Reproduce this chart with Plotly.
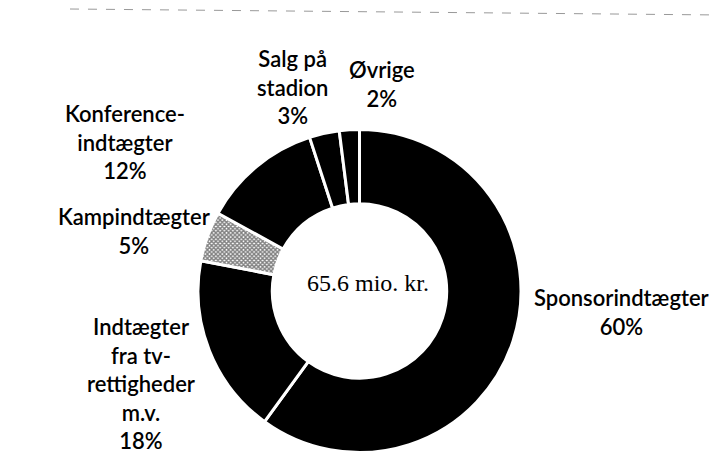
import plotly.graph_objects as go

categories = ["Sponsorindtægter", "Indtægter fra tv-rettigheder m.v.", "Kampindtægter",
              "Konferenceindtægter", "Salg på stadion", "Øvrige"]
values = [60, 18, 5, 12, 3, 2]
label_texts = [
    "Sponsorindtægter<br>60%",
    "Indtægter<br>fra tv-<br>rettigheder<br>m.v.<br>18%",
    "Kampindtægter<br>5%",
    "Konference-<br>indtægter<br>12%",
    "Salg på<br>stadion<br>3%",
    "Øvrige<br>2%",
]
# label anchor positions in page pixels (x, y-from-top)
label_pos = [(621, 312), (141, 383), (134, 231), (125, 142), (292, 87), (382, 84)]
center_text = "65.6 mio. kr."

# the page body has an 8px margin, so the figure is drawn 8px smaller and offset
OFF = 8
W, H = 721 - OFF, 453 - OFF
cx, cy, r = 359.5 - OFF, 291 - OFF, 161.5


def px(x):
    return (x - OFF) / W


def py(y):
    return 1 - (y - OFF) / H


fill_colors = ["#000000", "#000000", "#ffffff", "#000000", "#000000", "#000000"]
pattern_shapes = ["", "", "x", "", "", ""]

y0 = max(0.0, (H - cy - r) / H)
y1 = min(1.0, (H - cy + r) / H)

fig = go.Figure()
fig.add_trace(go.Pie(
    labels=categories,
    values=values,
    sort=False,
    direction="clockwise",
    rotation=0,
    hole=0.54,
    textinfo="none",
    hoverinfo="none",
    showlegend=False,
    marker=dict(
        colors=fill_colors,
        line=dict(color="#ffffff", width=3),
        pattern=dict(shape=pattern_shapes, fgcolor="#000000", bgcolor="#ffffff",
                     size=3, solidity=0.7, fillmode="overlay"),
    ),
    domain=dict(x=[(cx - r) / W, (cx + r) / W], y=[y0, y1]),
))

font_lbl = dict(family="Lato, Carlito, Open Sans, sans-serif", size=22, color="#000000", weight=600)
for txt, (lx, ly) in zip(label_texts, label_pos):
    fig.add_annotation(x=px(lx), y=py(ly), xref="paper", yref="paper",
                       text=txt, showarrow=False, font=font_lbl, align="center",
                       xanchor="center", yanchor="middle")

fig.add_annotation(x=px(368), y=py(283), xref="paper", yref="paper",
                   text=center_text, showarrow=False,
                   font=dict(family="Liberation Serif, Times New Roman, serif", size=24, color="#000000"),
                   xanchor="center", yanchor="middle")

# faint scan line at the top
fig.add_shape(type="line", xref="paper", yref="paper",
              x0=px(70), y0=py(9), x1=1.0, y1=py(15),
              line=dict(color="#999999", width=1, dash="dash"))

fig.update_layout(
    width=W, height=H,
    margin=dict(l=0, r=0, t=0, b=0),
    paper_bgcolor="#ffffff",
    plot_bgcolor="#ffffff",
)

fig.write_html("out.html")
